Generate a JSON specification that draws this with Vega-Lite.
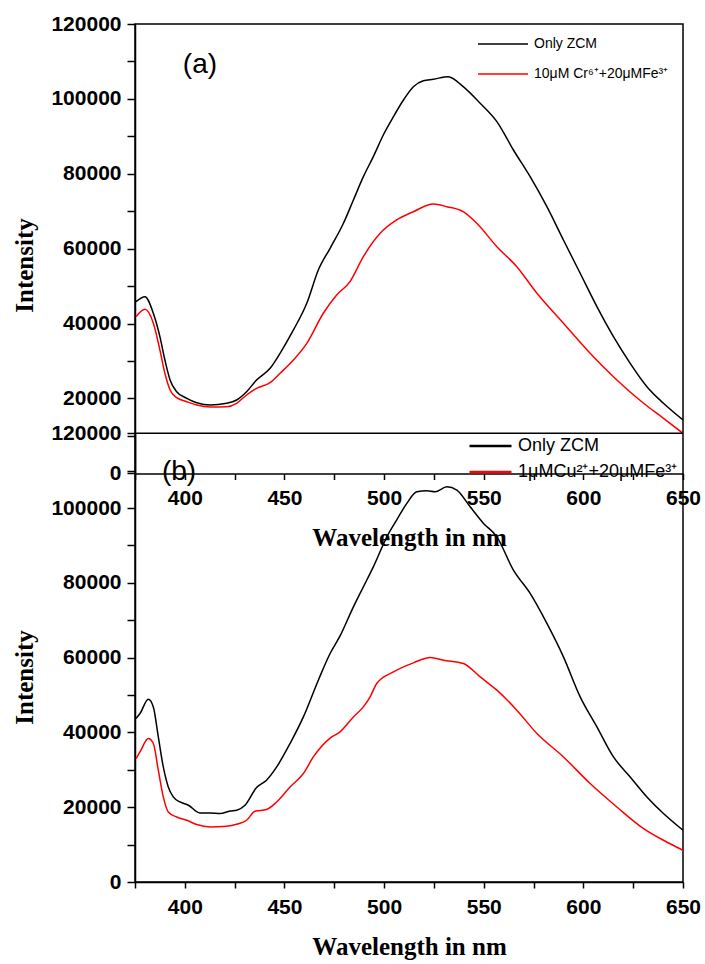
{
  "$schema": "https://vega.github.io/schema/vega-lite/v6.json",
  "autosize": {"type": "none"},
  "padding": {"left": 135, "top": 24, "right": 22, "bottom": 82},
  "width": 548,
  "height": 858,
  "background": "white",
  "config": {
    "view": {"stroke": "black", "strokeWidth": 1.5},
    "axis": {
      "grid": false, "ticks": true,
      "labelFont": "Liberation Sans", "labelFontWeight": "bold", "labelFontSize": 21, "labelColor": "black",
      "titleFont": "Liberation Serif", "titleFontWeight": "bold", "titleFontSize": 25, "titleColor": "black",
      "domainColor": "black", "domainWidth": 1.5, "tickColor": "black", "tickWidth": 1.5,
      "labelOverlap": false, "labelFlush": false
    },
    "legend": {
      "labelFont": "Liberation Sans", "labelColor": "black", "symbolType": "stroke", "padding": 0, "rowPadding": 0, "title": null
    }
  },
  "data": {
    "values": [
      {"p":"a","s":"Only ZCM","w":375.5,"v":45840},{"p":"a","s":"Only ZCM","w":380,"v":47170},{"p":"a","s":"Only ZCM","w":384.2,"v":42740},{"p":"a","s":"Only ZCM","w":387.5,"v":36490},{"p":"a","s":"Only ZCM","w":390,"v":30260},{"p":"a","s":"Only ZCM","w":392.6,"v":24920},{"p":"a","s":"Only ZCM","w":395.9,"v":21800},{"p":"a","s":"Only ZCM","w":401,"v":20030},{"p":"a","s":"Only ZCM","w":406,"v":18860},{"p":"a","s":"Only ZCM","w":412.7,"v":18240},{"p":"a","s":"Only ZCM","w":421,"v":18700},{"p":"a","s":"Only ZCM","w":426,"v":19580},{"p":"a","s":"Only ZCM","w":431,"v":21800},{"p":"a","s":"Only ZCM","w":436,"v":24920},{"p":"a","s":"Only ZCM","w":442.8,"v":28050},{"p":"a","s":"Only ZCM","w":447.8,"v":32050},{"p":"a","s":"Only ZCM","w":454.5,"v":38280},{"p":"a","s":"Only ZCM","w":461.2,"v":45410},{"p":"a","s":"Only ZCM","w":467,"v":54300},{"p":"a","s":"Only ZCM","w":472.9,"v":60100},{"p":"a","s":"Only ZCM","w":479.6,"v":66780},{"p":"a","s":"Only ZCM","w":484.6,"v":73000},{"p":"a","s":"Only ZCM","w":489.6,"v":79220},{"p":"a","s":"Only ZCM","w":494.6,"v":84570},{"p":"a","s":"Only ZCM","w":499.6,"v":90360},{"p":"a","s":"Only ZCM","w":504.7,"v":95250},{"p":"a","s":"Only ZCM","w":509.7,"v":99710},{"p":"a","s":"Only ZCM","w":514.7,"v":103260},{"p":"a","s":"Only ZCM","w":519.7,"v":104860},{"p":"a","s":"Only ZCM","w":524.7,"v":105240},{"p":"a","s":"Only ZCM","w":532.2,"v":105930},{"p":"a","s":"Only ZCM","w":539.7,"v":103260},{"p":"a","s":"Only ZCM","w":548.2,"v":98830},{"p":"a","s":"Only ZCM","w":556.6,"v":93910},{"p":"a","s":"Only ZCM","w":564.9,"v":86350},{"p":"a","s":"Only ZCM","w":573.3,"v":79220},{"p":"a","s":"Only ZCM","w":581.7,"v":71210},{"p":"a","s":"Only ZCM","w":590,"v":62310},{"p":"a","s":"Only ZCM","w":598.4,"v":53420},{"p":"a","s":"Only ZCM","w":606.8,"v":44500},{"p":"a","s":"Only ZCM","w":615.1,"v":36490},{"p":"a","s":"Only ZCM","w":623.5,"v":29380},{"p":"a","s":"Only ZCM","w":631.9,"v":23130},{"p":"a","s":"Only ZCM","w":640.2,"v":18700},{"p":"a","s":"Only ZCM","w":650,"v":14240},
      {"p":"a","s":"10μM Cr⁶⁺+20μMFe³⁺","w":375.5,"v":41830},{"p":"a","s":"10μM Cr⁶⁺+20μMFe³⁺","w":380,"v":43800},{"p":"a","s":"10μM Cr⁶⁺+20μMFe³⁺","w":384.2,"v":40070},{"p":"a","s":"10μM Cr⁶⁺+20μMFe³⁺","w":387.5,"v":32930},{"p":"a","s":"10μM Cr⁶⁺+20μMFe³⁺","w":390,"v":26710},{"p":"a","s":"10μM Cr⁶⁺+20μMFe³⁺","w":392.6,"v":22250},{"p":"a","s":"10μM Cr⁶⁺+20μMFe³⁺","w":395.9,"v":20190},{"p":"a","s":"10μM Cr⁶⁺+20μMFe³⁺","w":401,"v":19120},{"p":"a","s":"10μM Cr⁶⁺+20μMFe³⁺","w":406,"v":18240},{"p":"a","s":"10μM Cr⁶⁺+20μMFe³⁺","w":412.7,"v":17710},{"p":"a","s":"10μM Cr⁶⁺+20μMFe³⁺","w":421,"v":17790},{"p":"a","s":"10μM Cr⁶⁺+20μMFe³⁺","w":426,"v":18700},{"p":"a","s":"10μM Cr⁶⁺+20μMFe³⁺","w":431,"v":20910},{"p":"a","s":"10μM Cr⁶⁺+20μMFe³⁺","w":436,"v":22700},{"p":"a","s":"10μM Cr⁶⁺+20μMFe³⁺","w":442.8,"v":24200},{"p":"a","s":"10μM Cr⁶⁺+20μMFe³⁺","w":447.8,"v":26710},{"p":"a","s":"10μM Cr⁶⁺+20μMFe³⁺","w":454.5,"v":30260},{"p":"a","s":"10μM Cr⁶⁺+20μMFe³⁺","w":461.2,"v":34720},{"p":"a","s":"10μM Cr⁶⁺+20μMFe³⁺","w":469.5,"v":42740},{"p":"a","s":"10μM Cr⁶⁺+20μMFe³⁺","w":476.2,"v":47620},{"p":"a","s":"10μM Cr⁶⁺+20μMFe³⁺","w":482.9,"v":51200},{"p":"a","s":"10μM Cr⁶⁺+20μMFe³⁺","w":489.6,"v":57860},{"p":"a","s":"10μM Cr⁶⁺+20μMFe³⁺","w":498,"v":64100},{"p":"a","s":"10μM Cr⁶⁺+20μMFe³⁺","w":506.3,"v":67660},{"p":"a","s":"10μM Cr⁶⁺+20μMFe³⁺","w":514.7,"v":69870},{"p":"a","s":"10μM Cr⁶⁺+20μMFe³⁺","w":524.7,"v":71930},{"p":"a","s":"10μM Cr⁶⁺+20μMFe³⁺","w":531.5,"v":71210},{"p":"a","s":"10μM Cr⁶⁺+20μMFe³⁺","w":539.7,"v":69870},{"p":"a","s":"10μM Cr⁶⁺+20μMFe³⁺","w":546.5,"v":66780},{"p":"a","s":"10μM Cr⁶⁺+20μMFe³⁺","w":556.6,"v":60530},{"p":"a","s":"10μM Cr⁶⁺+20μMFe³⁺","w":566.6,"v":55180},{"p":"a","s":"10μM Cr⁶⁺+20μMFe³⁺","w":576.7,"v":48080},{"p":"a","s":"10μM Cr⁶⁺+20μMFe³⁺","w":590,"v":40070},{"p":"a","s":"10μM Cr⁶⁺+20μMFe³⁺","w":603.4,"v":32050},{"p":"a","s":"10μM Cr⁶⁺+20μMFe³⁺","w":616.8,"v":24920},{"p":"a","s":"10μM Cr⁶⁺+20μMFe³⁺","w":630.2,"v":18700},{"p":"a","s":"10μM Cr⁶⁺+20μMFe³⁺","w":640.2,"v":14690},{"p":"a","s":"10μM Cr⁶⁺+20μMFe³⁺","w":650,"v":10680},
      {"p":"b","s":"Only ZCM","w":375.5,"v":43730},{"p":"b","s":"Only ZCM","w":377.5,"v":45060},{"p":"b","s":"Only ZCM","w":381.7,"v":48890},{"p":"b","s":"Only ZCM","w":384.2,"v":46830},{"p":"b","s":"Only ZCM","w":386.7,"v":38800},{"p":"b","s":"Only ZCM","w":389.2,"v":30770},{"p":"b","s":"Only ZCM","w":391.7,"v":25420},{"p":"b","s":"Only ZCM","w":394.2,"v":22750},{"p":"b","s":"Only ZCM","w":397.6,"v":21410},{"p":"b","s":"Only ZCM","w":401.8,"v":20520},{"p":"b","s":"Only ZCM","w":407.6,"v":18460},{"p":"b","s":"Only ZCM","w":412.7,"v":18460},{"p":"b","s":"Only ZCM","w":417.7,"v":18300},{"p":"b","s":"Only ZCM","w":422.7,"v":19000},{"p":"b","s":"Only ZCM","w":426,"v":19190},{"p":"b","s":"Only ZCM","w":430.2,"v":20520},{"p":"b","s":"Only ZCM","w":436,"v":25260},{"p":"b","s":"Only ZCM","w":441,"v":27210},{"p":"b","s":"Only ZCM","w":446.1,"v":30770},{"p":"b","s":"Only ZCM","w":452.8,"v":37030},{"p":"b","s":"Only ZCM","w":459.5,"v":44150},{"p":"b","s":"Only ZCM","w":467,"v":53970},{"p":"b","s":"Only ZCM","w":472.9,"v":61120},{"p":"b","s":"Only ZCM","w":477.9,"v":65800},{"p":"b","s":"Only ZCM","w":484.6,"v":73590},{"p":"b","s":"Only ZCM","w":489.6,"v":78940},{"p":"b","s":"Only ZCM","w":494.6,"v":84290},{"p":"b","s":"Only ZCM","w":501.4,"v":92320},{"p":"b","s":"Only ZCM","w":506.3,"v":96790},{"p":"b","s":"Only ZCM","w":511.4,"v":101260},{"p":"b","s":"Only ZCM","w":516.4,"v":104360},{"p":"b","s":"Only ZCM","w":521.4,"v":104630},{"p":"b","s":"Only ZCM","w":525.6,"v":104360},{"p":"b","s":"Only ZCM","w":531.5,"v":105700},{"p":"b","s":"Only ZCM","w":536.5,"v":104820},{"p":"b","s":"Only ZCM","w":543.2,"v":100350},{"p":"b","s":"Only ZCM","w":549.9,"v":95910},{"p":"b","s":"Only ZCM","w":556.6,"v":92320},{"p":"b","s":"Only ZCM","w":564.9,"v":83410},{"p":"b","s":"Only ZCM","w":573.3,"v":77170},{"p":"b","s":"Only ZCM","w":581.7,"v":69150},{"p":"b","s":"Only ZCM","w":590,"v":60210},{"p":"b","s":"Only ZCM","w":598.4,"v":49510},{"p":"b","s":"Only ZCM","w":606.8,"v":41480},{"p":"b","s":"Only ZCM","w":615.1,"v":33450},{"p":"b","s":"Only ZCM","w":623.5,"v":28100},{"p":"b","s":"Only ZCM","w":631.9,"v":22750},{"p":"b","s":"Only ZCM","w":640.2,"v":18300},{"p":"b","s":"Only ZCM","w":650,"v":13830},
      {"p":"b","s":"1μMCu²⁺+20μMFe³⁺","w":375.5,"v":33020},{"p":"b","s":"1μMCu²⁺+20μMFe³⁺","w":377.5,"v":34790},{"p":"b","s":"1μMCu²⁺+20μMFe³⁺","w":381.7,"v":38370},{"p":"b","s":"1μMCu²⁺+20μMFe³⁺","w":384.2,"v":37030},{"p":"b","s":"1μMCu²⁺+20μMFe³⁺","w":386.7,"v":29890},{"p":"b","s":"1μMCu²⁺+20μMFe³⁺","w":389.2,"v":22750},{"p":"b","s":"1μMCu²⁺+20μMFe³⁺","w":391.7,"v":18730},{"p":"b","s":"1μMCu²⁺+20μMFe³⁺","w":395.9,"v":17390},{"p":"b","s":"1μMCu²⁺+20μMFe³⁺","w":401,"v":16510},{"p":"b","s":"1μMCu²⁺+20μMFe³⁺","w":406,"v":15360},{"p":"b","s":"1μMCu²⁺+20μMFe³⁺","w":412.7,"v":14720},{"p":"b","s":"1μMCu²⁺+20μMFe³⁺","w":421,"v":14910},{"p":"b","s":"1μMCu²⁺+20μMFe³⁺","w":426,"v":15440},{"p":"b","s":"1μMCu²⁺+20μMFe³⁺","w":431,"v":16510},{"p":"b","s":"1μMCu²⁺+20μMFe³⁺","w":435.2,"v":18920},{"p":"b","s":"1μMCu²⁺+20μMFe³⁺","w":441,"v":19370},{"p":"b","s":"1μMCu²⁺+20μMFe³⁺","w":446.1,"v":21410},{"p":"b","s":"1μMCu²⁺+20μMFe³⁺","w":452.8,"v":25420},{"p":"b","s":"1μMCu²⁺+20μMFe³⁺","w":459.5,"v":29010},{"p":"b","s":"1μMCu²⁺+20μMFe³⁺","w":464.5,"v":33450},{"p":"b","s":"1μMCu²⁺+20μMFe³⁺","w":472.9,"v":38500},{"p":"b","s":"1μMCu²⁺+20μMFe³⁺","w":477.9,"v":40140},{"p":"b","s":"1μMCu²⁺+20μMFe³⁺","w":484.6,"v":44150},{"p":"b","s":"1μMCu²⁺+20μMFe³⁺","w":489.6,"v":46830},{"p":"b","s":"1μMCu²⁺+20μMFe³⁺","w":493,"v":49510},{"p":"b","s":"1μMCu²⁺+20μMFe³⁺","w":496.3,"v":53090},{"p":"b","s":"1μMCu²⁺+20μMFe³⁺","w":504.7,"v":56200},{"p":"b","s":"1μMCu²⁺+20μMFe³⁺","w":514.7,"v":58600},{"p":"b","s":"1μMCu²⁺+20μMFe³⁺","w":523.1,"v":60050},{"p":"b","s":"1μMCu²⁺+20μMFe³⁺","w":529.8,"v":59330},{"p":"b","s":"1μMCu²⁺+20μMFe³⁺","w":539.8,"v":58440},{"p":"b","s":"1μMCu²⁺+20μMFe³⁺","w":548.2,"v":54860},{"p":"b","s":"1μMCu²⁺+20μMFe³⁺","w":556.6,"v":51300},{"p":"b","s":"1μMCu²⁺+20μMFe³⁺","w":566.6,"v":45950},{"p":"b","s":"1μMCu²⁺+20μMFe³⁺","w":576.7,"v":39710},{"p":"b","s":"1μMCu²⁺+20μMFe³⁺","w":590,"v":33450},{"p":"b","s":"1μMCu²⁺+20μMFe³⁺","w":603.4,"v":26330},{"p":"b","s":"1μMCu²⁺+20μMFe³⁺","w":616.8,"v":20070},{"p":"b","s":"1μMCu²⁺+20μMFe³⁺","w":630.2,"v":14290},{"p":"b","s":"1μMCu²⁺+20μMFe³⁺","w":640.2,"v":11160},{"p":"b","s":"1μMCu²⁺+20μMFe³⁺","w":650,"v":8480}
    ]
  },
  "layer": [
    {
      "layer": [
        {
          "transform": [{"filter": "datum.p === 'a'"}],
          "mark": {"type": "line", "strokeWidth": 1.5, "interpolate": "monotone", "clip": true},
          "encoding": {
            "x": {"field": "w", "type": "quantitative",
              "scale": {"domain": [375, 650], "nice": false, "zero": false},
              "axis": {"orient": "bottom", "offset": -408.5, "title": "Wavelength in nm",
                "values": [375,400,425,450,475,500,525,550,575,600,625,650],
                "labelExpr": "datum.value % 50 === 0 ? datum.label : ''",
                "tickSize": 6,
                "labelPadding": 8, "titlePadding": 17}},
            "y": {"field": "v", "type": "quantitative",
              "scale": {"domain": [0, 120000], "range": [449.3, 0], "nice": false},
              "axis": {"orient": "left", "title": "Intensity", "format": "d",
                "values": [0,10000,20000,30000,40000,50000,60000,70000,80000,90000,100000,110000,120000],
                "labelExpr": "datum.value % 20000 === 0 ? datum.label : ''",
                "tickSize": 8,
                "labelPadding": 6, "titleX": -111, "titleY": 241, "titleAlign": "center", "titleBaseline": "middle", "titleAngle": -90}},
            "color": {"field": "s", "type": "nominal",
              "scale": {"domain": ["Only ZCM", "10μM Cr⁶⁺+20μMFe³⁺"], "range": ["#000000", "#ff0000"]},
              "legend": {"orient": "none", "legendX": 342, "legendY": 5, "labelFontSize": 14, "symbolSize": 2500, "symbolStrokeWidth": 1.5, "clipHeight": 30, "labelOffset": 5}}
          }
        },
        {
          "data": {"values": [{"t": "(a)", "w": 407.6, "v": 109060}]},
          "mark": {"type": "text", "font": "Liberation Sans", "fontSize": 28, "fontWeight": "normal", "align": "center", "baseline": "middle", "color": "black"},
          "encoding": {
            "x": {"field": "w", "type": "quantitative"},
            "y": {"field": "v", "type": "quantitative"},
            "text": {"field": "t"}
          }
        }
      ]
    },
    {
      "layer": [
        {
          "transform": [{"filter": "datum.p === 'b'"}],
          "mark": {"type": "line", "strokeWidth": 1.5, "interpolate": "monotone"},
          "encoding": {
            "x": {"field": "w", "type": "quantitative",
              "scale": {"domain": [375, 650], "nice": false, "zero": false},
              "axis": {"orient": "bottom", "title": "Wavelength in nm",
                "values": [375,400,425,450,475,500,525,550,575,600,625,650],
                "labelExpr": "datum.value % 50 === 0 ? datum.label : ''",
                "tickSize": 6,
                "labelPadding": 8, "titlePadding": 17}},
            "y": {"field": "v", "type": "quantitative",
              "scale": {"domain": [0, 120000], "range": [858, 409.3], "nice": false},
              "axis": {"orient": "left", "title": "Intensity", "format": "d",
                "values": [0,10000,20000,30000,40000,50000,60000,70000,80000,90000,100000,110000,120000],
                "labelExpr": "datum.value % 20000 === 0 ? datum.label : ''",
                "tickSize": 8,
                "labelPadding": 6, "titleX": -111, "titleY": 653, "titleAlign": "center", "titleBaseline": "middle", "titleAngle": -90}},
            "color": {"field": "s", "type": "nominal",
              "scale": {"domain": ["Only ZCM", "1μMCu²⁺+20μMFe³⁺"], "range": ["#000000", "#ff0000"]},
              "legend": {"orient": "none", "legendX": 333, "legendY": 409, "labelFontSize": 18, "symbolSize": 1764, "symbolStrokeWidth": 2.5, "clipHeight": 26, "labelOffset": 5}}
          }
        },
        {
          "data": {"values": [{"v": 120000}]},
          "mark": {"type": "rule", "color": "black", "strokeWidth": 1.5},
          "encoding": {"y": {"field": "v", "type": "quantitative"}}
        },
        {
          "data": {"values": [{"t": "(b)", "w": 397.1, "v": 109640}]},
          "mark": {"type": "text", "font": "Liberation Sans", "fontSize": 28, "fontWeight": "normal", "align": "center", "baseline": "middle", "color": "black"},
          "encoding": {
            "x": {"field": "w", "type": "quantitative"},
            "y": {"field": "v", "type": "quantitative"},
            "text": {"field": "t"}
          }
        }
      ]
    }
  ],
  "resolve": {
    "scale": {"x": "independent", "y": "independent", "color": "independent"},
    "axis": {"x": "independent", "y": "independent"},
    "legend": {"color": "independent"}
  }
}
